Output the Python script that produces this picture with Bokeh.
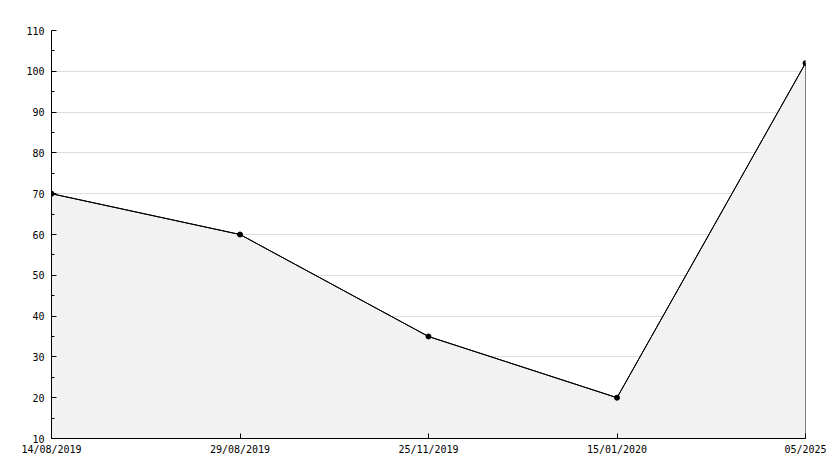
from bokeh.plotting import figure
from bokeh.models import Range1d, FixedTicker
from bokeh.embed import file_html
from bokeh.resources import INLINE

dates = ["14/08/2019", "29/08/2019", "25/11/2019", "15/01/2020", "05/2025"]
values = [70, 60, 35, 20, 102]
y_min, y_max = 10, 110
y_ticks = list(range(10, 111, 10))

xs = list(range(len(dates)))

p = figure(width=834, height=468, output_backend="svg", toolbar_location=None,
           x_range=Range1d(0, len(dates) - 1), y_range=Range1d(y_min, y_max),
           min_border_left=51, min_border_right=29, min_border_top=30, min_border_bottom=30)
p.outline_line_color = None
p.background_fill_color = "white"
p.border_fill_color = "white"

# area
px = [xs[0]] + xs + [xs[-1]]
py = [y_min] + values + [y_min]
p.patch(px, py, fill_color="#f2f2f2", line_color="black", line_width=1)
p.line(xs, values, line_color="black", line_width=1)
p.scatter(xs, values, size=5, marker="circle", color="black")

font = "DejaVu Sans Mono"
p.xaxis.ticker = FixedTicker(ticks=xs)
p.xaxis.major_label_overrides = {i: d for i, d in enumerate(dates)}
p.xaxis.major_tick_in = 5
p.xaxis.major_tick_out = 0
p.xaxis.minor_tick_line_color = None
p.xaxis.major_label_standoff = 5

p.yaxis.ticker = FixedTicker(ticks=y_ticks, minor_ticks=list(range(15, 110, 10)))
p.yaxis.major_tick_in = 5
p.yaxis.major_tick_out = 0
p.yaxis.minor_tick_in = 3
p.yaxis.minor_tick_out = 0
p.yaxis.major_label_standoff = 7

for ax in (p.xaxis, p.yaxis):
    ax.axis_line_color = "black"
    ax.major_tick_line_color = "black"
    ax.major_label_text_font = font
    ax.major_label_text_font_size = "10px"
    ax.major_label_text_color = "black"
p.yaxis.minor_tick_line_color = "black"

p.xgrid.grid_line_color = None
p.ygrid.grid_line_color = "#dddddd"
p.ygrid.ticker = FixedTicker(ticks=y_ticks)
p.ygrid.level = "underlay"

open("out.html", "w").write(file_html(p, INLINE))
